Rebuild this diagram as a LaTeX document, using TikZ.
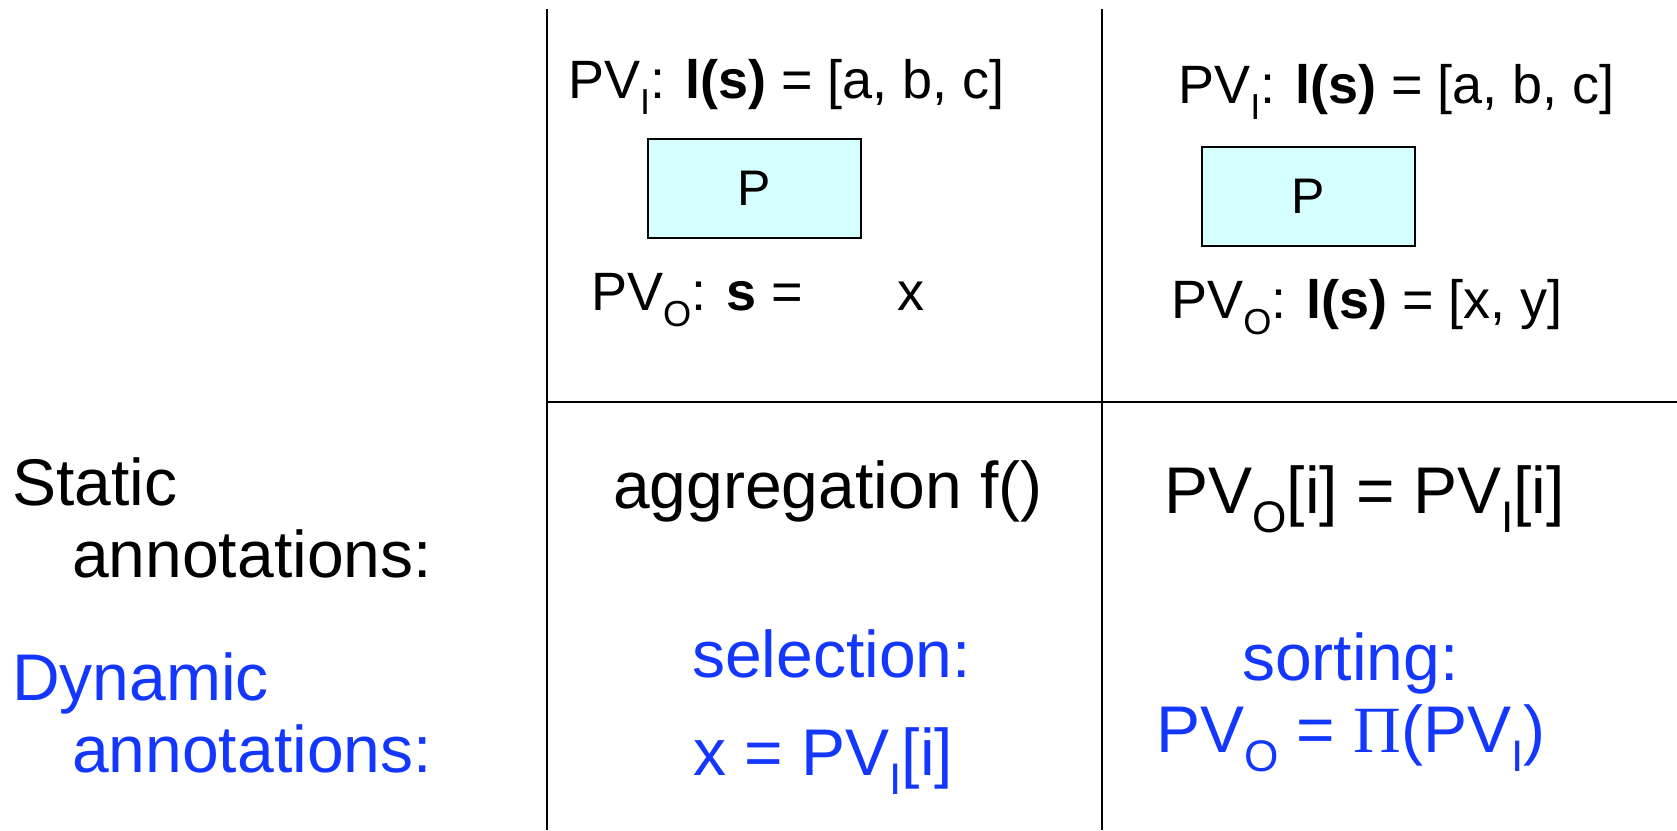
\documentclass[tikz,border=0pt]{standalone}
\usepackage{graphicx}
\usepackage{fontspec}
\setmainfont{Liberation Sans}
\newfontfamily\pifont{Liberation Serif}
\definecolor{dynblue}{RGB}{20,55,255}
\definecolor{boxcyan}{RGB}{214,255,255}
\newcommand{\sbs}[1]{\raisebox{-0.3em}{\scalebox{0.67}{#1}}}

\begin{document}
\begin{tikzpicture}[x=1pt, y=-1pt, every node/.style={inner sep=0pt, anchor=base west},
    big/.style={font=\fontsize{66}{79}\selectfont},
    small/.style={font=\fontsize{54}{64}\selectfont},
    dyn/.style={big, text=dynblue},
    pbox/.style={draw, line width=2pt, fill=boxcyan, anchor=center,
        minimum width=213, minimum height=99, font=\fontsize{50}{60}\selectfont}]
    \useasboundingbox (0,0) rectangle (1677,830);

    % Tabelle
    \coordinate (top1) at (547,9);
    \coordinate (top2) at (1102,9);
    \coordinate (mid1) at (547,402);
    \coordinate (mid2) at (1677,402);
    \draw[line width=2.5pt] (top1) -- (547,830);
    \draw[line width=2.5pt] (top2) -- (1102,830);
    \draw[line width=2.5pt] (mid1) -- (mid2);

    % Zeilenbeschriftung
    \node[big] (stat1) at (12,505) {Static};
    \node[big] (stat2) at (72,577) {annotations:};
    \node[dyn] (dyn1) at (12,700) {Dynamic};
    \node[dyn] (dyn2) at (72,772) {annotations:};

    % Aggregation
    \node[small] (inL) at (568,98) {PV\sbs{I}: \textbf{l(s)} = [a, b, c]};
    \node[pbox] (procL) at (754.5,188.5) {P};
    \node[small] (outL) at (591,310) {PV\sbs{O}: \textbf{s} =\hspace{1.75em}x};
    \node[big] (aggr) at (613,508) {aggregation f()};
    \node[dyn] (sel) at (692,677) {selection:};
    \node[dyn] (selx) at (693,775) {x = PV\sbs{I}[i]};

    % Sortierung
    \node[small] (inR) at (1178,103) {PV\sbs{I}: \textbf{l(s)} = [a, b, c]};
    \node[pbox] (procR) at (1308,196.5) {P};
    \node[small] (outR) at (1171,318) {PV\sbs{O}: \textbf{l(s)} = [x, y]};
    \node[big] (perm) at (1164,513) {PV\sbs{O}[i] = PV\sbs{I}[i]};
    \node[dyn] (sort) at (1242,680) {sorting:};
    \node[dyn] (sortp) at (1156,752) {PV\sbs{O} = {\pifont Π}(PV\sbs{I})};
\end{tikzpicture}
\end{document}
